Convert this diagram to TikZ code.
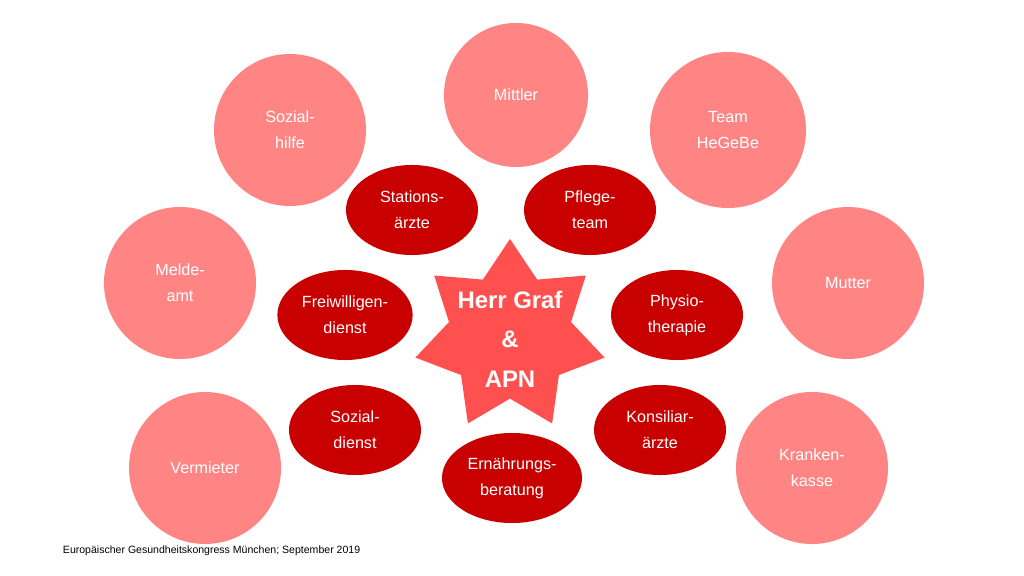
\documentclass[tikz,border=0pt]{standalone}
\usepackage{fontspec}
\setmainfont{Liberation Sans}
\usetikzlibrary{shapes.geometric}
\definecolor{outerred}{HTML}{FF8585}
\definecolor{innerred}{HTML}{C80000}
\definecolor{starred}{HTML}{FF5050}
\begin{document}
\begin{tikzpicture}[x=0.025cm, y=-0.025cm,
    outer/.style={circle, fill=outerred, text=white, minimum size=3.8cm,
      align=center, font=\fontsize{11.5}{18.5}\selectfont},
    inner/.style={ellipse, fill=innerred, text=white, minimum width=3.3cm,
      minimum height=2.25cm, align=center, font=\fontsize{11.5}{18.5}\selectfont},
  ]
    \useasboundingbox (0,0) rectangle (1024,576);

    \node[outer, minimum size=3.6cm] (mittler) at (516,95) {Mittler};
    \node[outer] (sozialhilfe) at (290,130) {Sozial-\\hilfe};
    \node[outer, minimum size=3.9cm] (team) at (728,130) {Team\\HeGeBe};
    \node[outer] (meldeamt) at (180,283) {Melde-\\amt};
    \node[outer] (mutter) at (848,283) {Mutter};
    \node[outer] (vermieter) at (205,468) {Vermieter};
    \node[outer] (kasse) at (812,468) {Kranken-\\kasse};

    \node[inner] (stations) at (412,210) {Stations-\\ärzte};
    \node[inner] (pflege) at (590,210) {Pflege-\\team};
    \node[inner] (freiwillig) at (345,315) {Freiwilligen-\\dienst};
    \node[inner] (physio) at (677,315) {Physio-\\therapie};
    \node[inner] (sozialdienst) at (355,430) {Sozial-\\dienst};
    \node[inner] (konsiliar) at (660,430) {Konsiliar-\\ärzte};
    \node[inner, minimum width=3.5cm] (ernaehrung) at (512,478) {Ernährungs-\\beratung};

    % star drawn empty, text set on top
    \node[star, star points=7, star point ratio=1.55, fill=starred,
      minimum size=4.85cm, inner sep=0pt] (graf) at (510,336) {};
    \node[text=white, align=center, font=\fontsize{17}{28}\selectfont\bfseries]
      (graftext) at (510,339) {Herr Graf\\\&\\APN};

    \node[anchor=west, font=\fontsize{7.5}{9}\selectfont] (footer) at (58,551)
      {Europäischer Gesundheitskongress München; September 2019};
\end{tikzpicture}
\end{document}
